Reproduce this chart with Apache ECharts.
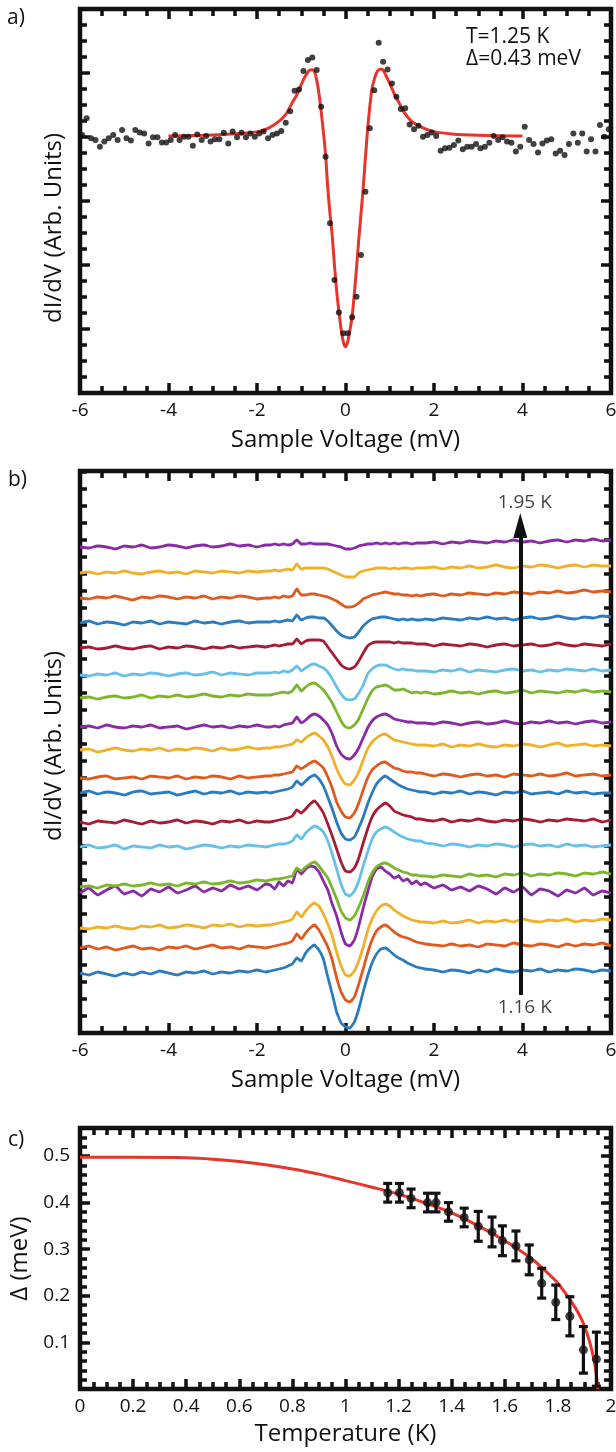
<!DOCTYPE html>
<html><head><meta charset="utf-8">
<script src="https://cdn.jsdelivr.net/npm/echarts/dist/echarts.min.js"></script>
<style>html,body{margin:0;padding:0;background:#fff}#c{width:616px;height:1452px}</style>
</head><body><div id="c"></div>
<script>
// ---------- Panel a: data points and fit ----------
const voltageA = [-5.95,-5.85,-5.75,-5.65,-5.55,-5.45,-5.35,-5.25,-5.15,-5.05,
-4.95,-4.85,-4.75,-4.65,-4.55,-4.45,-4.35,-4.25,-4.15,-4.05,
-3.95,-3.85,-3.75,-3.65,-3.55,-3.45,-3.35,-3.25,-3.15,-3.05,
-2.95,-2.85,-2.75,-2.65,-2.55,-2.45,-2.35,-2.25,-2.15,-2.05,
-1.95,-1.85,-1.75,-1.65,-1.55,-1.45,-1.35,-1.25,-1.15,-1.05,
-0.95,-0.85,-0.75,-0.65,-0.55,-0.45,-0.35,-0.25,-0.15,-0.05,
0.05,0.15,0.25,0.35,0.45,0.55,0.65,0.75,0.85,0.95,
1.05,1.15,1.25,1.35,1.45,1.55,1.65,1.75,1.85,1.95,
2.05,2.15,2.25,2.35,2.45,2.55,2.65,2.75,2.85,2.95,
3.05,3.15,3.25,3.35,3.45,3.55,3.65,3.75,3.85,3.95,
4.05,4.15,4.25,4.35,4.45,4.55,4.65,4.75,4.85,4.95,
5.05,5.15,5.25,5.35,5.45,5.55,5.65,5.75,5.85,5.95];
const dIdVA = [1.008,1.073,0.995,0.988,0.962,0.982,0.995,1.008,0.988,1.027,
0.995,0.986,1.027,1.018,1.014,0.975,0.999,0.999,0.979,0.979,
0.988,1.008,0.988,1.001,1.001,0.966,1.010,0.988,1.004,0.982,
0.991,0.991,1.017,0.975,1.021,0.999,1.017,0.999,1.014,1.001,
1.014,1.021,0.995,1.008,1.014,1.023,1.056,1.101,1.181,1.186,
1.258,1.301,1.311,1.262,1.118,0.923,0.663,0.441,0.314,0.233,
0.233,0.296,0.376,0.539,0.786,1.034,1.183,1.368,1.294,1.264,
1.209,1.157,1.109,1.112,1.049,1.030,1.044,1.001,1.008,1.018,
1.004,0.946,0.956,0.958,0.969,0.986,0.952,0.962,0.962,0.973,
0.956,0.962,0.978,1.004,0.988,0.999,0.982,0.978,0.943,0.962,
1.040,0.988,0.973,0.939,0.975,0.986,0.991,0.936,0.946,0.930,
0.973,1.014,0.978,1.014,0.943,0.991,0.943,1.047,1.001,1.030];
const fitVA = [-4,-3,-2.4,-2,-1.75,-1.5,-1.35,-1.2,-1.1,-1,-0.9,-0.8,-0.75,-0.7,-0.65,-0.6,-0.55,-0.5,-0.45,-0.4,-0.35,-0.3,-0.25,-0.2,-0.15,-0.1,-0.05,0,0.05,0.1,0.15,0.2,0.25,0.3,0.35,0.4,0.45,0.5,0.55,0.6,0.65,0.7,0.75,0.8,0.85,0.9,1,1.1,1.2,1.35,1.5,1.75,2,2.4,3,4];
const fitGA = [1.004,1.008,1.014,1.020,1.034,1.062,1.088,1.135,1.165,1.205,1.240,1.262,1.263,1.255,1.222,1.170,1.100,1.020,0.930,0.800,0.700,0.615,0.500,0.400,0.320,0.250,0.200,0.181,0.200,0.245,0.300,0.390,0.490,0.600,0.700,0.800,0.920,1.030,1.120,1.190,1.225,1.250,1.262,1.265,1.262,1.245,1.209,1.170,1.137,1.090,1.060,1.036,1.021,1.012,1.007,1.004];
const annotA = ['T=1.25 K', 'Δ=0.43 meV'];

// ---------- Panel b: spectra (bottom 1.16 K -> top 1.95 K) ----------
const voltageB = [-6,-5.8,-5.6,-5.4,-5.2,-5,-4.8,-4.6,-4.4,-4.2,-4,-3.8,-3.6,-3.4,-3.2,-3,-2.8,-2.6,-2.4,-2.2,-2,-1.8,
-1.7,-1.6,-1.5,-1.4,-1.3,-1.2,-1.1,-1,-0.9,-0.8,-0.7,-0.6,-0.5,-0.4,-0.3,-0.2,-0.1,0,0.1,0.2,0.3,0.4,0.5,0.6,0.7,0.8,0.9,1,1.1,1.2,1.3,1.4,1.5,1.6,1.7,
1.8,2,2.2,2.4,2.6,2.8,3,3.2,3.4,3.6,3.8,4,4.2,4.4,4.6,4.8,5,5.2,5.4,5.6,5.8,6];
const g00 = [10.0,9.8,10.1,9.9,9.7,10.0,9.8,10.1,9.9,10.2,10.0,9.8,10.1,10.0,10.2,9.9,10.1,10.0,10.2,10.1,10.3,10.1,
10.2,10.3,10.4,10.5,10.7,10.9,11.5,11.2,12.0,12.5,12.8,12.3,11.4,9.6,7.9,6.1,5.0,4.6,4.5,5.1,6.4,8.1,9.7,11.0,11.9,12.4,12.5,12.2,11.8,11.5,11.3,11.0,10.8,10.6,10.5,
10.4,10.3,10.1,10.3,10.2,10.0,10.3,10.1,10.4,10.2,10.1,10.3,10.2,10.4,10.1,10.3,10.2,10.4,10.3,10.1,10.3,10.2];
const g01 = [10.0,10.2,9.9,10.1,9.8,10.0,10.2,9.9,10.0,9.8,10.1,10.0,10.2,9.9,10.1,10.3,10.0,10.1,9.9,10.2,10.1,10.0,
10.1,10.2,10.3,10.4,10.5,10.7,11.4,10.9,11.5,12.0,12.3,11.8,11.0,10.1,8.8,7.0,5.6,4.8,4.6,5.1,6.4,7.9,9.5,10.8,11.7,12.1,12.3,12.0,11.6,11.3,11.1,11.0,10.8,10.6,10.5,
10.4,10.3,10.2,10.4,10.2,10.3,10.1,10.4,10.3,10.2,10.5,10.3,10.2,10.4,10.3,10.1,10.4,10.2,10.4,10.3,10.5,10.2];
const g02 = [10.0,9.9,10.1,10.0,10.2,10.0,9.9,10.2,10.1,10.3,10.0,10.1,10.3,10.2,10.0,10.3,10.2,10.4,10.1,10.3,10.2,10.3,
10.3,10.4,10.5,10.6,10.7,10.9,11.6,11.1,11.7,12.2,12.5,12.2,11.4,10.4,9.2,7.6,6.2,5.3,5.2,5.7,6.7,8.1,9.7,10.9,11.7,12.2,12.4,12.2,11.8,11.5,11.2,11.0,10.8,10.7,10.6,
10.6,10.5,10.7,10.5,10.6,10.8,10.5,10.7,10.6,10.8,10.6,10.9,10.7,10.6,10.8,10.7,10.9,10.6,10.8,10.7,10.9,10.8];
const g03 = [9.9,10.4,9.7,10.2,10.6,9.8,10.1,9.6,10.3,10.0,10.5,9.9,10.2,10.6,10.0,10.4,10.1,10.7,10.3,10.6,10.2,10.8,
10.7,10.3,11.0,10.6,11.1,10.9,12.3,11.8,12.3,12.6,12.5,12.0,11.1,10.2,8.8,7.6,6.0,4.8,4.6,5.2,6.6,8.4,10.0,11.5,12.3,12.5,12.1,11.8,11.4,11.6,11.1,11.3,10.8,11.1,10.7,
10.9,10.4,10.7,10.2,10.5,10.1,10.6,10.3,9.8,10.4,10.0,10.5,9.7,10.3,10.1,9.6,10.2,9.9,10.4,9.7,10.1,9.9];
const g04 = [10.0,10.1,9.9,10.2,10.1,10.3,10.1,10.2,10.4,10.2,10.3,10.1,10.4,10.3,10.5,10.3,10.4,10.6,10.4,10.5,10.7,10.6,
10.7,10.8,10.8,10.9,11.0,11.1,11.9,11.6,12.0,12.3,12.5,12.1,11.5,10.9,9.9,8.8,7.6,6.9,6.7,7.1,8.0,9.1,10.4,11.4,12.0,12.3,12.4,12.2,11.9,11.7,11.5,11.4,11.2,11.2,11.1,
11.1,11.0,11.2,11.1,11.0,11.3,11.1,11.2,11.0,11.3,11.2,11.4,11.1,11.3,11.2,11.4,11.3,11.1,11.4,11.3,11.5,11.3];
const g05 = [10.0,10.2,9.9,10.0,10.2,9.8,10.1,10.0,9.9,10.2,10.0,10.1,9.8,10.0,10.2,10.1,9.9,10.1,10.0,10.2,10.1,10.0,
10.1,10.2,10.3,10.3,10.4,10.6,11.2,10.8,11.4,11.8,12.1,11.9,11.5,10.6,9.3,7.8,6.3,5.3,5.1,5.6,6.6,8.1,9.5,10.8,11.5,11.8,12.0,11.8,11.5,11.2,11.0,10.8,10.7,10.6,10.6,
10.4,10.3,10.1,10.3,10.2,10.0,10.2,10.1,10.3,10.2,10.0,10.2,10.3,10.1,10.2,10.0,10.3,10.1,10.2,10.0,10.1,10.2];
const g06 = [10.0,9.8,10.1,10.0,9.9,10.2,10.0,9.8,10.1,9.9,10.0,10.2,9.9,10.1,10.0,9.8,10.1,10.0,10.2,9.9,10.1,10.0,
10.0,10.1,10.2,10.3,10.4,10.6,11.2,10.9,11.3,11.8,12.1,11.6,10.9,9.8,8.6,7.3,6.0,5.1,5.0,5.4,6.4,7.9,9.3,10.5,11.2,11.6,11.9,11.6,11.1,10.9,10.7,10.6,10.5,10.3,10.3,
10.2,10.1,10.3,10.0,10.2,10.1,10.3,10.1,10.0,10.2,10.1,10.3,10.2,10.0,10.2,10.1,10.3,10.2,10.1,10.3,10.0,10.2];
const g07 = [10.0,10.2,9.9,10.1,10.0,9.8,10.1,10.2,9.9,10.0,10.1,9.8,10.0,10.2,9.9,10.1,10.0,10.2,9.9,10.1,10.0,10.1,
10.0,10.1,10.2,10.3,10.4,10.6,11.2,10.8,11.2,11.6,11.8,11.4,10.7,9.6,8.4,7.1,6.0,5.4,5.3,5.6,6.5,7.6,8.9,10.0,10.9,11.4,11.7,11.4,11.1,10.8,10.6,10.4,10.3,10.2,10.1,
10.1,9.9,10.1,10.0,10.2,9.9,10.1,10.0,9.8,10.1,10.0,10.2,9.9,10.0,10.1,9.9,10.2,10.0,10.1,9.9,10.0,10.0];
const g08 = [10.0,9.9,10.1,10.2,9.9,10.0,10.1,9.9,10.2,10.1,10.0,10.2,9.9,10.1,10.0,10.2,10.1,9.9,10.2,10.0,10.1,10.2,
10.2,10.3,10.3,10.4,10.5,10.6,11.2,10.9,11.2,11.5,11.7,11.4,11.0,10.1,9.0,7.6,6.7,6.1,6.0,6.5,7.5,8.8,10.0,10.8,11.2,11.5,11.6,11.3,11.0,10.9,10.7,10.6,10.6,10.5,10.5,
10.4,10.2,10.4,10.3,10.1,10.3,10.4,10.2,10.3,10.1,10.4,10.3,10.2,10.4,10.2,10.3,10.5,10.2,10.3,10.4,10.2,10.3];
const g09 = [10.0,10.1,9.8,10.0,10.2,10.0,9.9,10.1,10.0,10.2,9.9,10.1,10.0,10.2,10.1,9.9,10.2,10.0,10.1,10.3,10.1,10.2,
10.2,10.3,10.3,10.4,10.5,10.6,11.0,10.8,11.2,11.5,11.7,11.4,11.0,10.3,9.3,8.1,7.2,6.6,6.5,7.0,7.8,9.0,10.1,10.8,11.2,11.5,11.6,11.3,11.0,10.9,10.8,10.7,10.6,10.5,10.5,
10.5,10.4,10.6,10.3,10.5,10.4,10.6,10.4,10.3,10.5,10.4,10.6,10.5,10.3,10.5,10.7,10.4,10.5,10.6,10.4,10.5,10.4];
const g10 = [10.0,10.1,9.9,10.2,10.0,9.9,10.1,10.0,10.2,9.9,10.0,10.1,9.8,10.0,10.2,10.0,10.1,9.9,10.1,10.0,10.2,10.0,
10.0,10.1,10.0,10.2,10.3,10.4,11.0,10.4,10.7,11.1,11.3,11.1,10.7,10.2,9.3,8.1,7.3,6.9,6.8,7.2,7.9,8.9,9.9,10.6,11.0,11.2,11.3,11.1,10.8,10.7,10.6,10.5,10.5,10.4,10.4,
10.4,10.3,10.5,10.4,10.2,10.4,10.5,10.3,10.4,10.6,10.4,10.3,10.5,10.4,10.6,10.4,10.5,10.3,10.5,10.6,10.4,10.5];
const g11 = [10.0,10.1,9.9,10.1,10.2,10.0,10.1,10.3,10.0,10.2,10.1,10.3,10.1,10.2,10.4,10.2,10.1,10.3,10.2,10.4,10.3,10.3,
10.3,10.4,10.5,10.6,10.5,10.7,11.3,10.7,11.1,11.4,11.5,11.2,10.8,10.2,9.5,8.6,7.7,7.1,7.0,7.3,7.9,8.9,9.9,10.7,11.1,11.2,11.3,11.1,10.8,10.8,10.9,10.7,10.5,10.6,10.5,
10.6,10.4,10.5,10.7,10.5,10.6,10.4,10.6,10.7,10.5,10.6,10.8,10.5,10.7,10.6,10.5,10.7,10.6,10.8,10.6,10.7,10.6];
const g12 = [10.0,9.9,10.1,10.0,10.2,9.9,10.1,10.0,10.2,10.1,9.9,10.1,10.2,10.0,10.1,10.3,10.0,10.2,10.1,10.0,10.2,10.2,
10.2,10.3,10.2,10.4,10.3,10.5,10.9,10.4,10.7,11.0,11.1,10.9,10.7,10.3,9.6,8.8,8.1,7.6,7.5,7.6,8.2,9.0,10.1,10.6,10.9,11.0,11.0,10.8,10.6,10.5,10.6,10.5,10.5,10.4,10.4,
10.4,10.3,10.5,10.4,10.6,10.3,10.5,10.4,10.3,10.5,10.6,10.4,10.5,10.3,10.5,10.4,10.6,10.5,10.4,10.6,10.4,10.5];
const g13 = [10.0,10.1,9.9,10.0,10.2,10.0,9.9,10.1,10.2,9.9,10.1,10.0,10.2,10.1,9.9,10.1,10.0,10.2,10.0,10.1,10.2,10.1,
10.2,10.3,10.2,10.3,10.4,10.4,10.9,10.4,10.7,10.8,10.8,10.8,10.7,10.1,9.5,8.9,8.3,8.0,7.9,8.1,8.7,9.5,10.2,10.5,10.6,10.6,10.6,10.6,10.5,10.6,10.5,10.5,10.5,10.4,10.4,
10.4,10.2,10.4,10.3,10.2,10.4,10.3,10.1,10.3,10.4,10.2,10.3,10.4,10.2,10.3,10.5,10.3,10.2,10.4,10.3,10.2,10.4];
const g14 = [10.0,10.2,9.9,10.1,10.0,9.8,10.1,10.0,10.2,9.9,10.1,10.0,9.9,10.2,10.0,10.1,9.9,10.1,10.2,10.0,10.1,10.1,
10.1,10.2,10.1,10.2,10.3,10.2,10.8,10.3,10.5,10.6,10.6,10.5,10.5,10.2,9.7,9.2,8.8,8.6,8.5,8.6,9.1,9.7,10.1,10.4,10.5,10.6,10.6,10.5,10.4,10.3,10.4,10.3,10.4,10.3,10.3,
10.4,10.3,10.5,10.4,10.3,10.5,10.4,10.6,10.4,10.5,10.3,10.5,10.6,10.4,10.5,10.7,10.5,10.4,10.6,10.5,10.7,10.6];
const g15 = [10.0,9.9,10.1,10.0,10.2,10.0,9.8,10.1,10.0,10.2,10.1,9.9,10.1,10.0,10.2,9.9,10.1,10.0,10.2,10.1,9.9,10.0,
10.0,10.1,10.0,10.2,10.1,10.2,10.9,10.3,10.3,10.4,10.4,10.3,10.2,10.1,9.9,9.7,9.4,9.1,9.1,9.2,9.5,9.9,10.1,10.3,10.4,10.5,10.6,10.5,10.4,10.4,10.3,10.3,10.2,10.3,10.2,
10.3,10.4,10.2,10.4,10.3,10.5,10.4,10.3,10.5,10.4,10.6,10.5,10.4,10.6,10.5,10.7,10.5,10.6,10.8,10.6,10.7,10.6];
const g16 = [10.0,10.1,9.9,10.1,10.0,10.2,10.0,9.9,10.1,10.2,10.0,10.1,9.9,10.2,10.1,10.0,10.2,10.1,10.0,10.2,10.1,10.2,
10.2,10.3,10.2,10.3,10.4,10.3,10.9,10.4,10.5,10.5,10.5,10.5,10.5,10.4,10.2,10.0,9.8,9.6,9.6,9.6,10.0,10.2,10.3,10.4,10.5,10.5,10.5,10.4,10.5,10.4,10.5,10.5,10.4,10.5,10.5,
10.5,10.6,10.4,10.6,10.5,10.7,10.5,10.6,10.8,10.6,10.5,10.7,10.6,10.8,10.7,10.5,10.7,10.8,10.6,10.8,10.7,10.7];
const g17 = [10.0,9.9,10.1,10.0,9.8,10.1,10.0,10.2,9.9,10.0,10.2,10.1,9.9,10.1,10.2,10.0,10.1,10.3,10.1,10.2,10.0,10.2,
10.2,10.3,10.2,10.3,10.2,10.3,10.7,10.3,10.3,10.4,10.3,10.3,10.3,10.3,10.2,10.1,10.0,9.8,9.8,9.9,10.1,10.2,10.3,10.3,10.4,10.3,10.4,10.3,10.4,10.3,10.4,10.4,10.3,10.4,10.4,
10.4,10.5,10.3,10.5,10.4,10.6,10.5,10.4,10.6,10.5,10.7,10.5,10.6,10.4,10.6,10.7,10.5,10.7,10.6,10.8,10.6,10.7];
const tracesB = [g00,g01,g02,g03,g04,g05,g06,g07,g08,g09,g10,g11,g12,g13,g14,g15,g16,g17];
const offsetsB = [1.1,3.6,5.6,9.2,9.7,13.7,16.2,19.1,20.6,23.4,25.7,28.6,30.9,33.6,36.1,38.6,41.1,43.7];
const arrowLabelsB = ['1.16 K', '1.95 K'];

// ---------- Panel c: gap vs temperature ----------
const tempC = [1.159,1.203,1.247,1.309,1.341,1.388,1.447,1.500,1.552,1.591,1.642,1.692,1.739,1.792,1.845,1.896,1.945];
const gapC = [0.421,0.421,0.409,0.400,0.400,0.380,0.368,0.349,0.337,0.318,0.307,0.277,0.227,0.186,0.156,0.084,0.064];
const errC = [0.020,0.020,0.020,0.020,0.020,0.020,0.020,0.032,0.032,0.032,0.032,0.032,0.032,0.037,0.042,0.050,0.058];
const fitTC = [0,0.2,0.4,0.5,0.6,0.7,0.8,0.9,1.0,1.1,1.2,1.3,1.4,1.5,1.6,1.7,1.75,1.8,1.85,1.88,1.9,1.92,1.935,1.945,1.95];
const fitDC = [0.497,0.497,0.496,0.493,0.488,0.481,0.472,0.461,0.447,0.433,0.418,0.399,0.378,0.350,0.318,0.280,0.255,0.227,0.188,0.160,0.135,0.100,0.065,0.030,0.000];

// ---------- styling ----------
const INK = '#111111';
const RED = '#e8342a';
const FONT = "'Open Sans', 'Noto Sans', sans-serif";
const palette = ['#2b7bbf','#df5a1e','#efb12b','#8b2aa5','#7bb62c','#66c0e8','#a61c36'];

const chart = echarts.init(document.getElementById('c'), null, {renderer:'canvas', width:616, height:1452});

function ax(gridIndex, position, c) {
  return {
    type: 'value', gridIndex, position, min: c.min, max: c.max, interval: c.interval,
    axisLine: {show: false, onZero: false},
    axisTick: {show: true, inside: true, length: c.tick || 10, lineStyle: {color: INK, width: 3.5}},
    axisLabel: {show: !!c.labels, color: INK, fontFamily: FONT, fontSize: 19, margin: c.margin || 8,
      showMinLabel: true, showMaxLabel: true, formatter: c.formatter},
    splitLine: {show: false},
    name: c.name || '', nameLocation: 'middle', nameGap: c.nameGap || 0,
    nameTextStyle: {color: INK, fontFamily: FONT, fontSize: 24}
  };
}
// each side of each frame: a major-tick axis and a fine-tick axis
function sides(gridIndex, isX, major, fine, mainExtra) {
  const p = isX ? ['bottom', 'top'] : ['left', 'right'];
  return [
    ax(gridIndex, p[0], Object.assign({}, major, mainExtra || {})),
    ax(gridIndex, p[1], major),
    ax(gridIndex, p[0], fine),
    ax(gridIndex, p[1], fine)
  ];
}
const grids = [
  {left: 80, top: 9, width: 531, height: 384},
  {left: 80, top: 471, width: 531, height: 562},
  {left: 80, top: 1128, width: 531, height: 261}
].map(g => Object.assign(g, {show: true, borderColor: INK, borderWidth: 4.5, backgroundColor: 'transparent', containLabel: false, outerBoundsMode: 'none'}));

const voltMajor = {min: -6, max: 6, interval: 2, tick: 10};
const voltFine = {min: -6, max: 6, interval: 0.5, tick: 7};
const fmtC = v => (v > 0.05 && Math.abs(v * 10 - Math.round(v * 10)) < 1e-6) ? v.toFixed(1) : '';
const xAxes = [].concat(
  sides(0, true, voltMajor, voltFine, {labels: true, name: 'Sample Voltage (mV)', nameGap: 35}),
  sides(1, true, voltMajor, voltFine, {labels: true, name: 'Sample Voltage (mV)', nameGap: 35}),
  sides(2, true, {min: 0, max: 2, interval: 0.2, tick: 10}, {min: 0, max: 2, interval: 0.05, tick: 7},
    {labels: true, name: 'Temperature (K)', nameGap: 33})
);
const yAxes = [].concat(
  sides(0, false, {min: 0, max: 1.5, interval: 0.25, tick: 10}, {min: 0, max: 1.5, interval: 0.0625, tick: 7}),
  sides(1, false, {min: 5.1, max: 61.3, interval: 1.7, tick: 7}, {min: 5.1, max: 61.3, interval: 1.7, tick: 7}),
  sides(2, false, {min: 0, max: 0.56, interval: 0.1, tick: 10}, {min: 0, max: 0.56, interval: 0.02, tick: 7},
    {labels: true, formatter: fmtC, margin: 10, name: 'Δ (meV)', nameGap: 42})
);
const AX = {a: 0, b: 4, c: 8};

const series = [];
// panel a
series.push({type: 'line', xAxisIndex: AX.a, yAxisIndex: AX.a, data: fitVA.map((v, i) => [v, fitGA[i]]),
  smooth: 0.3, showSymbol: false, lineStyle: {color: RED, width: 3}, z: 2});
series.push({type: 'scatter', xAxisIndex: AX.a, yAxisIndex: AX.a, data: voltageA.map((v, i) => [v, dIdVA[i]]),
  symbol: 'circle', symbolSize: 6, itemStyle: {color: INK}, z: 3});
// panel b
tracesB.forEach((g, k) => {
  series.push({type: 'line', xAxisIndex: AX.b, yAxisIndex: AX.b,
    data: voltageB.map((v, i) => [v, g[i] + offsetsB[k]]),
    smooth: 0.1, showSymbol: false, lineStyle: {color: palette[k % 7], width: 2.8}, z: 2});
});
series.push({type: 'scatter', xAxisIndex: AX.b, yAxisIndex: AX.b, symbolSize: 0, z: 5,
  data: [{value: [4.05, 7.6], name: arrowLabelsB[0]}, {value: [4.05, 58.1], name: arrowLabelsB[1]}],
  label: {show: true, position: 'inside', formatter: p => p.name, color: INK, fontFamily: FONT, fontSize: 19},
  markLine: {silent: true, symbol: ['none', 'triangle'], symbolSize: [14, 25],
    lineStyle: {color: INK, width: 4, type: 'solid'}, label: {show: false},
    data: [[{coord: [3.95, 8.9]}, {coord: [3.95, 55.85]}]]}});
// panel c
series.push({type: 'line', xAxisIndex: AX.c, yAxisIndex: AX.c, data: fitTC.map((t, i) => [t, fitDC[i]]),
  smooth: 0.3, showSymbol: false, lineStyle: {color: RED, width: 3}, z: 2});
series.push({type: 'custom', xAxisIndex: AX.c, yAxisIndex: AX.c, z: 3,
  data: tempC.map((t, i) => [t, gapC[i], errC[i]]),
  renderItem: (params, api) => {
    const x = api.value(0), y = api.value(1), e = api.value(2);
    const p1 = api.coord([x, y + e]), p2 = api.coord([x, y - e]);
    const w = 4.5, st = {stroke: INK, lineWidth: 3.2};
    return {type: 'group', children: [
      {type: 'line', shape: {x1: p1[0], y1: p1[1], x2: p2[0], y2: p2[1]}, style: st},
      {type: 'line', shape: {x1: p1[0] - w, y1: p1[1], x2: p1[0] + w, y2: p1[1]}, style: st},
      {type: 'line', shape: {x1: p2[0] - w, y1: p2[1], x2: p2[0] + w, y2: p2[1]}, style: st}
    ]};
  }});
series.push({type: 'scatter', xAxisIndex: AX.c, yAxisIndex: AX.c, data: tempC.map((t, i) => [t, gapC[i]]),
  symbol: 'circle', symbolSize: 9, itemStyle: {color: INK}, z: 4});

const yTitle = 'dI/dV (Arb. Units)';
const graphics = [
  {type: 'text', left: 7, top: 8, style: {text: 'a)', font: '21px ' + FONT, fill: INK}},
  {type: 'text', left: 8, top: 470, style: {text: 'b)', font: '21px ' + FONT, fill: INK}},
  {type: 'text', left: 8, top: 1130, style: {text: 'c)', font: '21px ' + FONT, fill: INK}},
  {type: 'text', left: 466, top: 27, style: {text: annotA[0], font: '21px ' + FONT, fill: INK}},
  {type: 'text', left: 466, top: 49, style: {text: annotA[1], font: '21px ' + FONT, fill: INK}},
  {type: 'text', x: 54, y: 228, rotation: Math.PI / 2,
    style: {text: yTitle, font: '24px ' + FONT, fill: INK, align: 'center', verticalAlign: 'middle'}},
  {type: 'text', x: 54, y: 746, rotation: Math.PI / 2,
    style: {text: yTitle, font: '24px ' + FONT, fill: INK, align: 'center', verticalAlign: 'middle'}}
];

chart.setOption({
  animation: false, backgroundColor: '#ffffff',
  grid: grids, xAxis: xAxes, yAxis: yAxes, series, graphic: graphics
});
</script></body></html>
